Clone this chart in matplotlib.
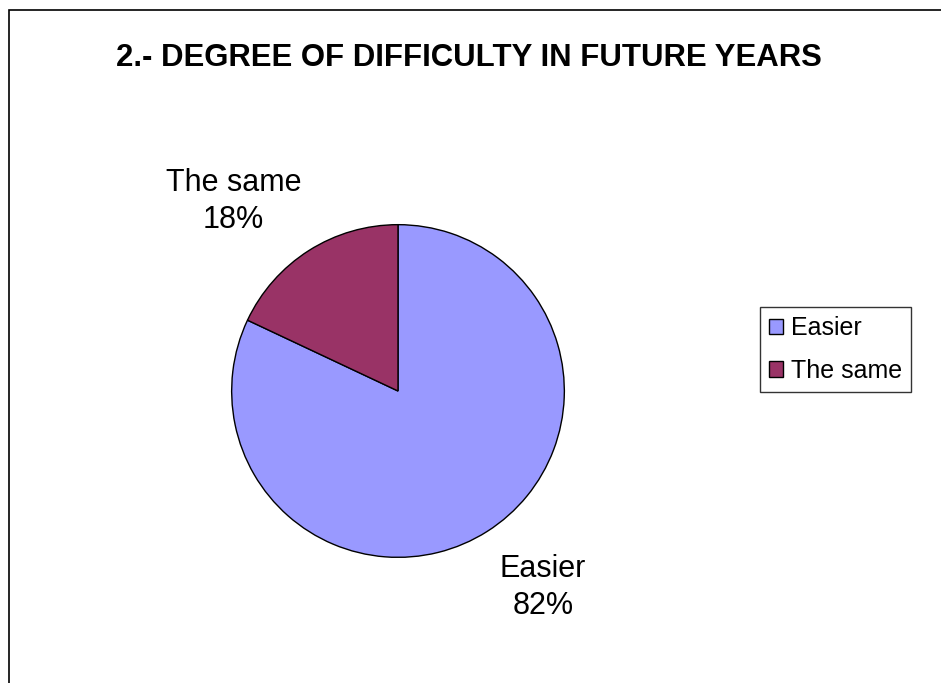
import matplotlib.pyplot as plt
from matplotlib.patches import Rectangle

plt.rcParams['font.family'] = ['Liberation Sans', 'DejaVu Sans']

title = "2.- DEGREE OF DIFFICULTY IN FUTURE YEARS"
categories = ["Easier", "The same"]
shares = [82, 18]
colors = ["#9999FF", "#993366"]

W, H = 941, 683
fig = plt.figure(figsize=(W / 100, H / 100), dpi=100)
fig.patch.set_facecolor("white")

# chart area border (only top and left edges visible in the reference)
fig.patches.append(Rectangle((8.5 / W, -0.05), 1.1, 1 - 9.5 / H + 0.05,
                             transform=fig.transFigure, fill=False,
                             edgecolor="black", linewidth=1.2))

fig.text(469 / W, 1 - 58 / H, title, ha="center", va="center",
         fontsize=22.4, fontweight="bold")

ax = fig.add_axes([230 / W, (H - 559) / H, 336 / W, 336 / H])
wedges, _ = ax.pie(shares, colors=colors, startangle=90, counterclock=False,
                   radius=1.0,
                   wedgeprops=dict(edgecolor="black", linewidth=1.0))
ax.set_xlim(-1.01, 1.01)
ax.set_ylim(-1.01, 1.01)
ax.set_aspect("equal")

label_pos = {"Easier": (0.87, -1.18), "The same": (-0.99, 1.14)}
for cat, val in zip(categories, shares):
    x, y = label_pos[cat]
    ax.text(x, y, f"{cat}\n{val}%", ha="center", va="center",
            fontsize=22, linespacing=1.3, clip_on=False)

leg = fig.legend(wedges, categories, loc="upper left",
                 bbox_to_anchor=(760 / W, 1 - 307 / H), fontsize=18,
                 frameon=True, fancybox=False, edgecolor="black",
                 handlelength=0.56, handleheight=0.56, handletextpad=0.32,
                 borderpad=0.36, labelspacing=0.75, borderaxespad=0)
leg.get_frame().set_linewidth(1.0)

fig.savefig("out.png", dpi=100)
